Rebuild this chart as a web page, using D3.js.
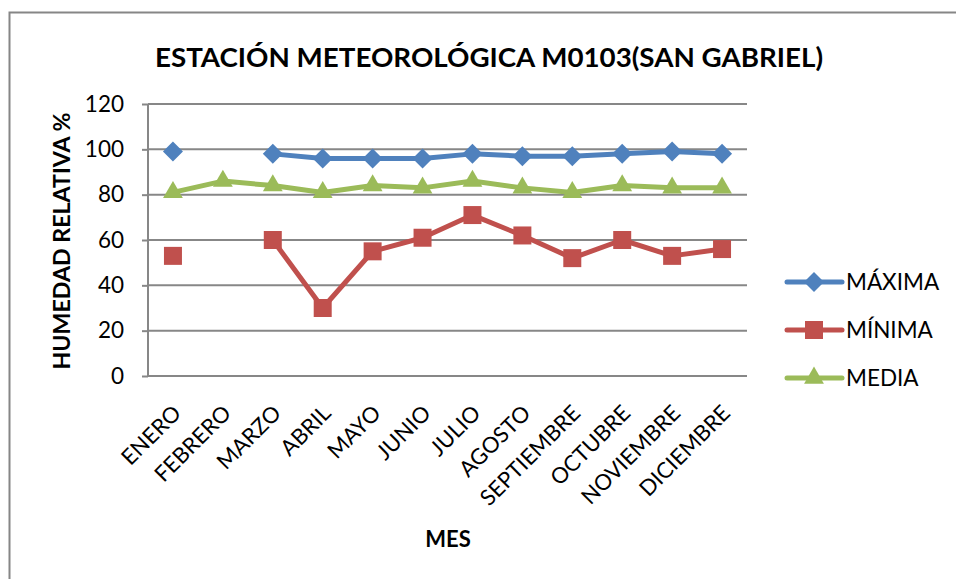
<!DOCTYPE html>
<html>
<head>
<meta charset="utf-8">
<script src="https://cdn.jsdelivr.net/npm/d3@7"></script>
<style>
  body { margin: 0; background: #fff; }
  text { font-family: Lato, "Open Sans", sans-serif; fill: #000; }
</style>
</head>
<body>
<div id="canvas"></div>
<script>
const months = ["ENERO", "FEBRERO", "MARZO", "ABRIL", "MAYO", "JUNIO", "JULIO",
  "AGOSTO", "SEPTIEMBRE", "OCTUBRE", "NOVIEMBRE", "DICIEMBRE"];
const maxima = [99, null, 98, 96, 96, 96, 98, 97, 97, 98, 99, 98];
const minima = [53, null, 60, 30, 55, 61, 71, 62, 52, 60, 53, 56];
const media = [81, 86, 84, 81, 84, 83, 86, 83, 81, 84, 83, 83];
const seriesNames = ["MÁXIMA", "MÍNIMA", "MEDIA"];
const yTicks = [0, 20, 40, 60, 80, 100, 120];

const width = 956;
const height = 579;
const margin = { top: 104, left: 148, bottom: 203, right: 209 };
const iwidth = width - margin.left - margin.right;
const iheight = height - margin.top - margin.bottom;

const svg = d3.select("#canvas").append("svg")
  .attr("width", width)
  .attr("height", height);

// marco del gráfico
svg.append("rect")
  .attr("x", 9.5).attr("y", 12.5)
  .attr("width", 980).attr("height", 620)
  .attr("fill", "#fff")
  .attr("stroke", "#868686")
  .attr("stroke-width", 2);

svg.append("text")
  .attr("x", 489).attr("y", 67)
  .attr("text-anchor", "middle")
  .attr("font-size", 27).attr("font-weight", "bold")
  .attr("textLength", 668).attr("lengthAdjust", "spacingAndGlyphs")
  .text("ESTACIÓN METEOROLÓGICA M0103(SAN GABRIEL)");

const g = svg.append("g")
  .attr("transform", `translate(${margin.left},${margin.top})`);

const x = d3.scaleBand().domain(months).range([0, iwidth]);
const y = d3.scaleLinear().domain([0, 120]).range([iheight, 0]);
const cx = (m) => x(m) + x.bandwidth() / 2;

// rejilla
g.append("g")
  .selectAll("line")
  .data(yTicks)
  .join("line")
  .attr("x1", 0).attr("x2", iwidth)
  .attr("y1", (d) => y(d)).attr("y2", (d) => y(d))
  .attr("stroke", "#878787")
  .attr("stroke-width", 2);

// eje Y
const yAxis = g.append("g")
  .call(d3.axisLeft(y).tickValues(yTicks).tickSize(6).tickPadding(18));
yAxis.select(".domain").remove();
yAxis.selectAll(".tick line").attr("stroke", "#878787").attr("stroke-width", 2);
yAxis.selectAll(".tick text")
  .attr("font-size", 22.5).attr("font-family", "Lato, sans-serif").attr("fill", "#000");
g.append("line")
  .attr("x1", 0).attr("x2", 0).attr("y1", 0).attr("y2", iheight)
  .attr("stroke", "#878787").attr("stroke-width", 2);

// eje X
const xAxis = g.append("g")
  .attr("transform", `translate(0,${iheight})`)
  .call(d3.axisBottom(x).tickSize(0));
xAxis.select(".domain").remove();
xAxis.selectAll(".tick text")
  .attr("font-size", 22).attr("font-family", "Lato, sans-serif").attr("fill", "#000")
  .attr("text-anchor", "end")
  .attr("dy", "0.35em")
  .attr("transform", "translate(2,31) rotate(-45)");

svg.append("text")
  .attr("x", 448).attr("y", 547)
  .attr("text-anchor", "middle")
  .attr("font-size", 22).attr("font-weight", "bold")
  .text("MES");

svg.append("text")
  .attr("transform", "translate(70,241) rotate(-90)")
  .attr("text-anchor", "middle")
  .attr("font-size", 22).attr("font-weight", "bold")
  .attr("textLength", 257).attr("lengthAdjust", "spacingAndGlyphs")
  .text("HUMEDAD RELATIVA %");

const series = [
  { name: seriesNames[0], values: maxima, color: "#4F81BD",
    symbol: d3.symbol(d3.symbolSquare, 200), rotate: 45 },
  { name: seriesNames[1], values: minima, color: "#C0504D",
    symbol: d3.symbol(d3.symbolSquare, 324), rotate: 0 },
  { name: seriesNames[2], values: media, color: "#9BBB59",
    symbol: d3.symbol(d3.symbolTriangle, 170), rotate: 0 },
];

const line = d3.line()
  .defined((d) => d.v != null)
  .x((d) => cx(d.m))
  .y((d) => y(d.v));

series.forEach((s) => {
  const pts = months.map((m, i) => ({ m: m, v: s.values[i] }));
  g.append("path")
    .datum(pts)
    .attr("fill", "none")
    .attr("stroke", s.color)
    .attr("stroke-width", 5)
    .attr("stroke-linejoin", "round")
    .attr("d", line);
  g.append("g")
    .selectAll("path")
    .data(pts.filter((d) => d.v != null))
    .join("path")
    .attr("d", s.symbol)
    .attr("fill", s.color)
    .attr("transform", (d) => `translate(${cx(d.m)},${y(d.v)}) rotate(${s.rotate})`);
});

// leyenda
const legend = svg.append("g");
const ly = d3.scalePoint().domain(seriesNames).range([282, 378]);
series.forEach((s) => {
  const row = legend.append("g").attr("transform", `translate(0,${ly(s.name)})`);
  row.append("line")
    .attr("x1", 787).attr("x2", 842)
    .attr("stroke", s.color).attr("stroke-width", 5)
    .attr("stroke-linecap", "round");
  row.append("path")
    .attr("d", s.symbol)
    .attr("fill", s.color)
    .attr("transform", `translate(814,0) rotate(${s.rotate})`);
  row.append("text")
    .attr("x", 846).attr("y", 0).attr("dy", "0.35em")
    .attr("font-size", 22.5)
    .text(s.name);
});
</script>
</body>
</html>
